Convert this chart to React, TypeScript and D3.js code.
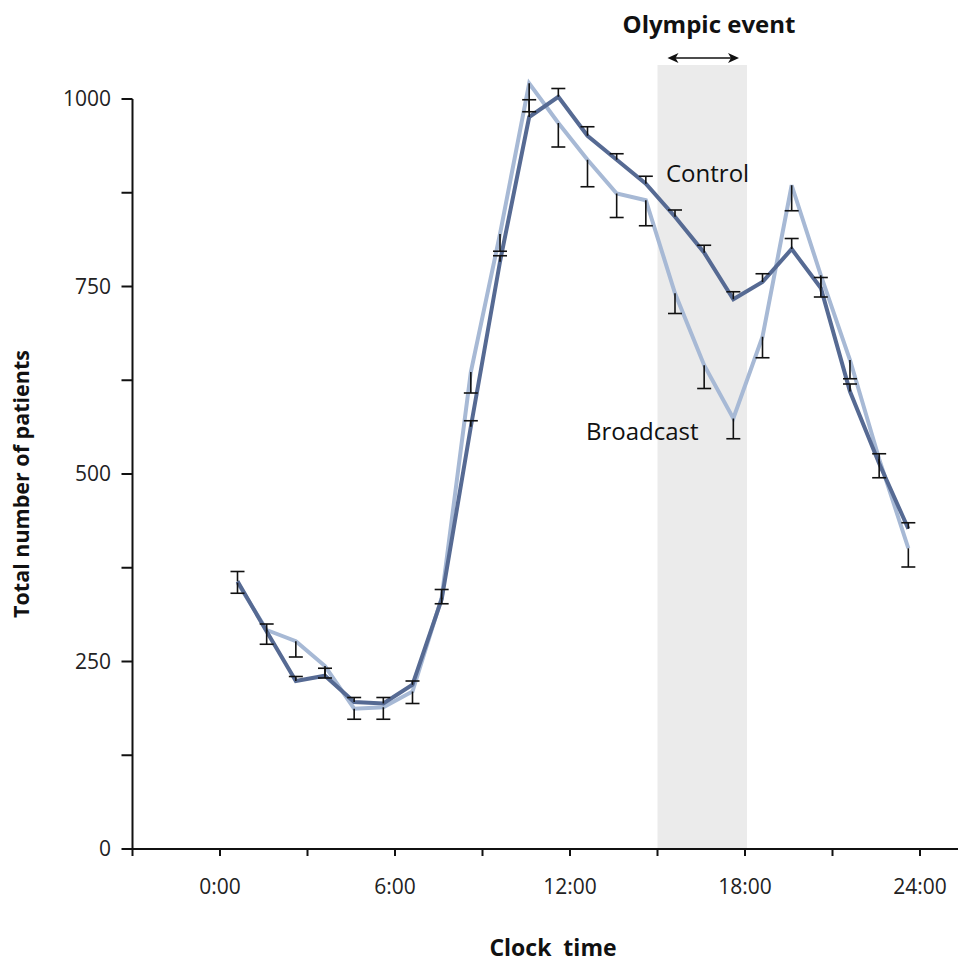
import { useMemo } from "react";
import * as d3 from "d3";

// hour position of each of the 24 hourly samples
const slotHours = [0.6, 1.6, 2.6, 3.6, 4.6, 5.6, 6.6, 7.6, 8.6, 9.6, 10.6, 11.6, 12.6, 13.6, 14.6, 15.6, 16.6, 17.6, 18.6, 19.6, 20.6, 21.6, 22.6, 23.6];
const controlValues = [357, 290, 224, 231, 196, 194, 219, 333, 563, 783, 976, 1003, 951, 919, 887, 843, 795, 733, 756, 800, 748, 610, 514, 427];
const controlUpper = [370, 300, 230, 241, 202, 202, 224, 346, 571, 791, 999, 1014, 963, 927, 897, 852, 805, 743, 767, 814, 762, 620, 527, 435];
const broadcastValues = [355, 292, 277, 244, 187, 189, 210, 335, 636, 820, 1021, 968, 919, 874, 865, 741, 645, 574, 683, 885, 765, 652, 520, 401];
const broadcastLower = [341, 273, 256, 228, 173, 173, 194, 327, 608, 797, 983, 936, 883, 842, 831, 714, 614, 547, 655, 851, 736, 627, 495, 376];

const xTicks = [-3, 0, 3, 6, 9, 12, 15, 18, 21, 24];
const xLabels = [0, 6, 12, 18, 24];
const yTicks = [0, 125, 250, 375, 500, 625, 750, 875, 1000];
const yLabels = [0, 250, 500, 750, 1000];
const eventSpan = [15, 18];

const FONT = "'Open Sans', 'Noto Sans', sans-serif";
const DARK = "#566a93";
const LIGHT = "#a7b9d5";

const App = () => {
  const width = 959,
    height = 963;

  const xScale = useMemo(
    () => d3.scaleLinear().domain([-3, 24]).range([132.5, 920]),
    []
  );
  const yScale = useMemo(
    () => d3.scaleLinear().domain([0, 1000]).range([849, 99]),
    []
  );

  const line = d3
    .line<number>()
    .x((_, i) => xScale(slotHours[i]))
    .y((d) => yScale(d));

  const capHalf = 7;
  const x0 = xScale(-3);
  const yBase = yScale(0);

  const errorBars = slotHours.map((h, i) => {
    const x = xScale(h);
    return (
      <g key={i} stroke="#111" strokeWidth={1.6}>
        <line x1={x} x2={x} y1={yScale(controlValues[i])} y2={yScale(controlUpper[i])} />
        <line x1={x - capHalf} x2={x + capHalf} y1={yScale(controlUpper[i])} y2={yScale(controlUpper[i])} />
        <line x1={x} x2={x} y1={yScale(broadcastValues[i])} y2={yScale(broadcastLower[i])} />
        <line x1={x - capHalf} x2={x + capHalf} y1={yScale(broadcastLower[i])} y2={yScale(broadcastLower[i])} />
      </g>
    );
  });

  const arrowY = 58;
  const ax1 = xScale(eventSpan[0]) + 10;
  const ax2 = xScale(eventSpan[1]) - 6;

  return (
    <div>
      <svg
        width={width}
        height={height}
        style={{ position: "absolute", left: 0, top: 0, background: "#fff" }}
        fontFamily={FONT}
      >
        {/* olympic event band */}
        <rect
          x={xScale(eventSpan[0])}
          y={65}
          width={xScale(eventSpan[1]) - xScale(eventSpan[0]) + 2}
          height={yBase - 65}
          fill="#ebebeb"
        />
        <text x={709} y={33} textAnchor="middle" fontSize={24} fontWeight="bold" fill="#111">
          Olympic event
        </text>
        <line x1={ax1 + 4} x2={ax2 - 4} y1={arrowY} y2={arrowY} stroke="#111" strokeWidth={1.6} />
        <path d={`M${ax1},${arrowY} L${ax1 + 11},${arrowY - 5} L${ax1 + 8},${arrowY} L${ax1 + 11},${arrowY + 5} Z`} fill="#111" />
        <path d={`M${ax2},${arrowY} L${ax2 - 11},${arrowY - 5} L${ax2 - 8},${arrowY} L${ax2 - 11},${arrowY + 5} Z`} fill="#111" />

        {/* series */}
        <path d={line(broadcastValues) || ""} fill="none" stroke={LIGHT} strokeWidth={4} strokeLinejoin="miter" />
        <path d={line(controlValues) || ""} fill="none" stroke={DARK} strokeWidth={4} strokeLinejoin="miter" />
        {errorBars}

        <text x={666} y={182} fontSize={24} fill="#111">Control</text>
        <text x={586} y={440} fontSize={24} fill="#111">Broadcast</text>

        {/* y axis */}
        <line x1={x0} x2={x0} y1={yScale(1000)} y2={yBase} stroke="#111" strokeWidth={2} />
        {yTicks.map((t) => (
          <line key={t} x1={x0 - 11} x2={x0} y1={yScale(t)} y2={yScale(t)} stroke="#111" strokeWidth={2} />
        ))}
        {yLabels.map((t) => (
          <text key={t} x={111} y={yScale(t)} dy="0.35em" textAnchor="end" fontSize={21} fill="#222">
            {t}
          </text>
        ))}
        <text
          transform={`translate(29,484) rotate(-90)`}
          textAnchor="middle"
          fontSize={21.5}
          fontWeight="bold"
          fill="#111"
        >
          Total number of patients
        </text>

        {/* x axis */}
        <line x1={x0} x2={958} y1={yBase} y2={yBase} stroke="#111" strokeWidth={2} />
        {xTicks.map((t) => (
          <line key={t} x1={xScale(t)} x2={xScale(t)} y1={yBase} y2={yBase + 7} stroke="#111" strokeWidth={2} />
        ))}
        {xLabels.map((t) => (
          <text key={t} x={xScale(t)} y={894} textAnchor="middle" fontSize={21} fill="#222">
            {`${t}:00`}
          </text>
        ))}
        <text x={553} y={956} textAnchor="middle" fontSize={23} fontWeight="bold" fill="#111" style={{ whiteSpace: "pre" }}>
          Clock  time
        </text>
      </svg>
    </div>
  );
};

export default App;
